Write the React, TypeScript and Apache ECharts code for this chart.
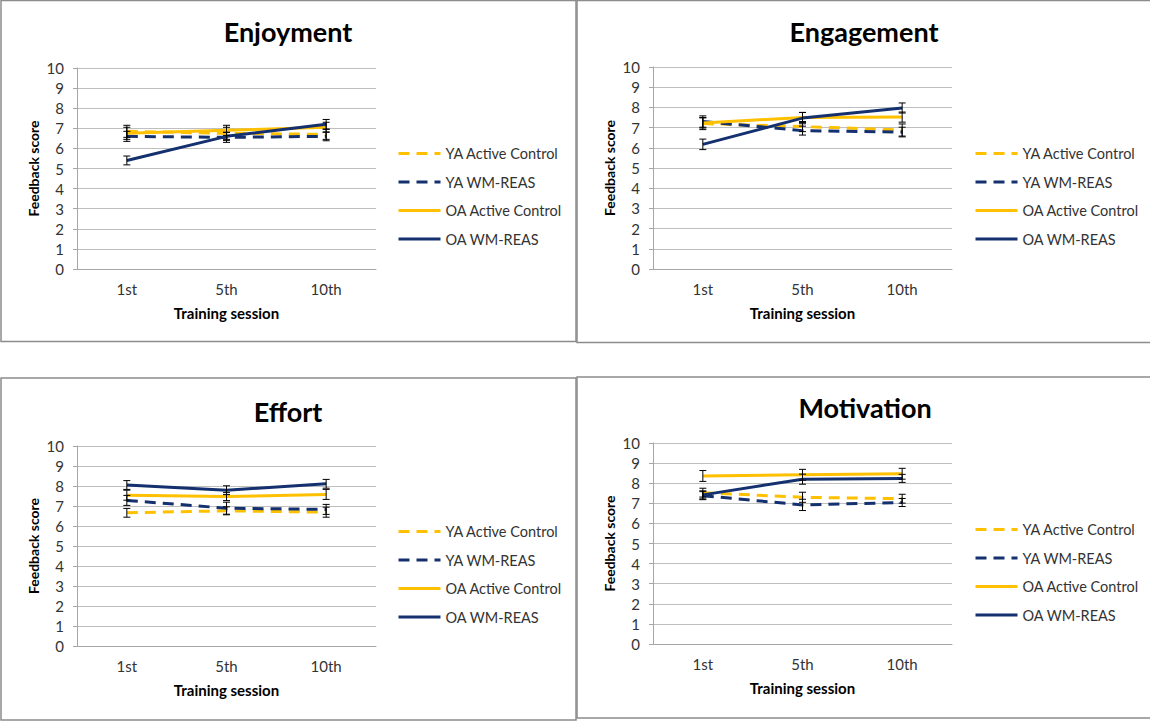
import React, { useEffect, useRef } from "react";
import * as echarts from "echarts";

const sessions = ["1st", "5th", "10th"];
const seriesNames = ["YA Active Control", "YA WM-REAS", "OA Active Control", "OA WM-REAS"];
const yTicks = [0, 1, 2, 3, 4, 5, 6, 7, 8, 9, 10];

// means, ordered as seriesNames
const enjoymentMeans = [
  [6.85, 6.75, 6.7],
  [6.6, 6.55, 6.6],
  [6.75, 6.9, 7.05],
  [5.4, 6.6, 7.2],
];
const enjoymentErrors = [
  [0.3, 0.3, 0.25],
  [0.25, 0.25, 0.22],
  [0.3, 0.25, 0.25],
  [0.22, 0.2, 0.24],
];

const engagementMeans = [
  [7.2, 7.05, 6.88],
  [7.3, 6.85, 6.78],
  [7.23, 7.5, 7.52],
  [6.17, 7.47, 7.97],
];
const engagementErrors = [
  [0.3, 0.25, 0.3],
  [0.28, 0.22, 0.24],
  [0.25, 0.25, 0.25],
  [0.26, 0.28, 0.25],
];

const effortMeans = [
  [6.66, 6.76, 6.69],
  [7.28, 6.89, 6.83],
  [7.54, 7.47, 7.58],
  [8.05, 7.79, 8.11],
];
const effortErrors = [
  [0.22, 0.2, 0.25],
  [0.25, 0.3, 0.25],
  [0.25, 0.2, 0.25],
  [0.22, 0.22, 0.22],
];

const motivationMeans = [
  [7.53, 7.3, 7.23],
  [7.38, 6.92, 7.04],
  [8.36, 8.42, 8.47],
  [7.42, 8.2, 8.24],
];
const motivationErrors = [
  [0.22, 0.25, 0.22],
  [0.2, 0.28, 0.2],
  [0.27, 0.27, 0.27],
  [0.2, 0.25, 0.2],
];

const YELLOW = "#FFC000";
const NAVY = "#14306E";
const FONT = "Lato, 'Open Sans', sans-serif";
const seriesColors = [YELLOW, NAVY, YELLOW, NAVY];
const seriesDashed = [true, true, false, false];

const panels = [
  {
    title: "Enjoyment", means: enjoymentMeans, errors: enjoymentErrors,
    frame: { x: 1, y: 0.5, width: 575, height: 341 }, titleX: 288, titleY: 31,
    grid: { left: 77, top: 68, width: 299, height: 201 }, legendLeft: 397, legendTop: 146,
  },
  {
    title: "Engagement", means: engagementMeans, errors: engagementErrors,
    frame: { x: 577, y: 0.5, width: 590, height: 342 }, titleX: 864, titleY: 31,
    grid: { left: 653, top: 67, width: 299, height: 202 }, legendLeft: 974, legendTop: 146,
  },
  {
    title: "Effort", means: effortMeans, errors: effortErrors,
    frame: { x: 1, y: 378, width: 575, height: 342 }, titleX: 288, titleY: 411,
    grid: { left: 77, top: 446, width: 299, height: 200 }, legendLeft: 397, legendTop: 524,
  },
  {
    title: "Motivation", means: motivationMeans, errors: motivationErrors,
    frame: { x: 577, y: 377, width: 590, height: 341 }, titleX: 865, titleY: 407,
    grid: { left: 653, top: 443, width: 299, height: 201 }, legendLeft: 974, legendTop: 522,
  },
];

function errorRender(params: any, api: any) {
  const x = api.value(0);
  const m = api.value(1);
  const e = api.value(2);
  const hi = api.coord([x, m + e]);
  const lo = api.coord([x, m - e]);
  const cap = 3.5;
  const style = { stroke: "#000", lineWidth: 1 };
  return {
    type: "group",
    children: [
      { type: "line", shape: { x1: hi[0], y1: hi[1], x2: lo[0], y2: lo[1] }, style },
      { type: "line", shape: { x1: hi[0] - cap, y1: hi[1], x2: hi[0] + cap, y2: hi[1] }, style },
      { type: "line", shape: { x1: lo[0] - cap, y1: lo[1], x2: lo[0] + cap, y2: lo[1] }, style },
    ],
  };
}

function buildOption() {
  const grids: any[] = [];
  const xAxes: any[] = [];
  const yAxes: any[] = [];
  const legends: any[] = [];
  const series: any[] = [];
  const graphics: any[] = [];

  panels.forEach((p, pi) => {
    graphics.push({
      type: "rect",
      shape: { ...p.frame },
      style: { fill: "none", stroke: "#8c8c8c", lineWidth: 1.5 },
      z: 0,
    });
    graphics.push({
      type: "text",
      x: p.titleX,
      y: p.titleY,
      style: {
        text: p.title,
        font: `bold 27px ${FONT}`,
        fill: "#000",
        textAlign: "center",
        textVerticalAlign: "middle",
      },
    });
    grids.push({ ...p.grid });
    xAxes.push({
      type: "category",
      gridIndex: pi,
      data: sessions,
      boundaryGap: true,
      axisLine: { show: true, lineStyle: { color: "#a6a6a6", width: 1 } },
      axisTick: { show: false },
      axisLabel: { color: "#333", fontFamily: FONT, fontSize: 15, margin: 12 },
      name: "Training session",
      nameLocation: "middle",
      nameGap: 36,
      nameTextStyle: { color: "#000", fontFamily: FONT, fontWeight: "bold", fontSize: 15 },
    });
    yAxes.push({
      type: "value",
      gridIndex: pi,
      min: yTicks[0],
      max: yTicks[yTicks.length - 1],
      interval: 1,
      axisLine: { show: true, lineStyle: { color: "#a6a6a6", width: 1 } },
      axisTick: { show: true, length: 4, lineStyle: { color: "#a6a6a6" } },
      splitLine: { show: true, lineStyle: { color: "#bfbfbf", width: 1 } },
      axisLabel: { color: "#333", fontFamily: FONT, fontSize: 15, margin: 13 },
      name: "Feedback score",
      nameLocation: "middle",
      nameGap: 37,
      nameRotate: 90,
      nameTextStyle: { color: "#000", fontFamily: FONT, fontWeight: "bold", fontSize: 14 },
    });
    legends.push({
      orient: "vertical",
      left: p.legendLeft,
      top: p.legendTop,
      padding: 0,
      itemWidth: 42,
      itemHeight: 14,
      itemGap: 13.5,
      data: seriesNames,
      itemStyle: { opacity: 0 },
      lineStyle: { width: 3 },
      textStyle: { color: "#333", fontFamily: FONT, fontSize: 14.5, lineHeight: 14 },
    });
    seriesNames.forEach((name, si) => {
      series.push({
        type: "line",
        name,
        xAxisIndex: pi,
        yAxisIndex: pi,
        data: p.means[si],
        symbol: "none",
        lineStyle: {
          color: seriesColors[si],
          width: 3,
          type: seriesDashed[si] ? [11, 7] : "solid",
        },
        itemStyle: { color: seriesColors[si] },
        z: 2 + si,
      });
    });
    seriesNames.forEach((name, si) => {
      series.push({
        type: "custom",
        name: name + " error",
        xAxisIndex: pi,
        yAxisIndex: pi,
        renderItem: errorRender,
        encode: { x: 0, y: 1 },
        data: p.means[si].map((m, i) => [i, m, p.errors[si][i]]),
        z: 10,
        silent: true,
      });
    });
  });

  return {
    animation: false,
    backgroundColor: "#fff",
    grid: grids,
    xAxis: xAxes,
    yAxis: yAxes,
    legend: legends,
    series,
    graphic: graphics,
  };
}

export default function App() {
  const ref = useRef<HTMLDivElement>(null);
  useEffect(() => {
    if (!ref.current) return;
    const chart = echarts.init(ref.current, undefined, { renderer: "svg" });
    chart.setOption(buildOption() as any);
    return () => chart.dispose();
  }, []);
  return (
    <div
      ref={ref}
      style={{ position: "fixed", left: 0, top: 0, width: 1150, height: 721, background: "#fff" }}
    />
  );
}
